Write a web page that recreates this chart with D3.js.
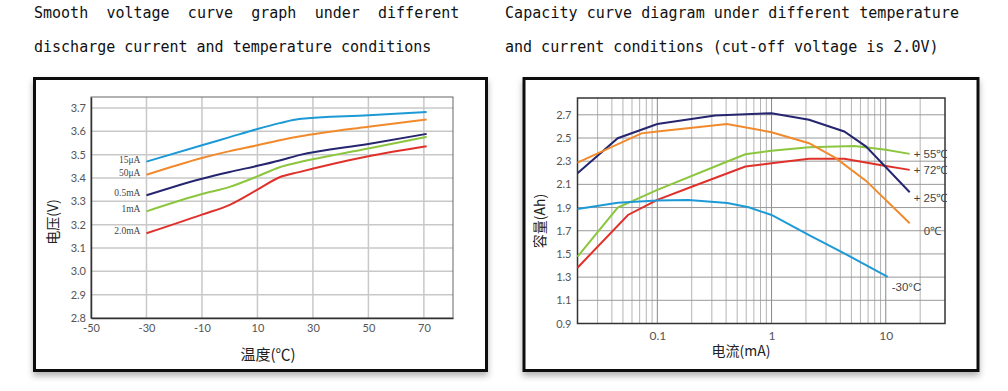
<!DOCTYPE html>
<html>
<head>
<meta charset="utf-8">
<script src="https://cdn.jsdelivr.net/npm/d3@7"></script>
<style>
  body { margin: 0; background: #fff; }
  .title { font-family: "DejaVu Sans Mono", monospace; font-size: 15px; fill: #111; }
  .tick text { font-family: Lato, "DejaVu Sans", sans-serif; fill: #555; }
  .cjk { font-family: "Noto Sans CJK SC", sans-serif; fill: #222; }
</style>
</head>
<body>
<svg id="chart" width="1008" height="391"></svg>
<script>
// ---- left chart: voltage vs temperature ----
const temps = [-30, -10, 0, 10, 18, 25, 50, 71];
const v15uA = [3.470, 3.540, 3.575, 3.610, 3.635, 3.653, 3.669, 3.683];
const v50uA = [3.414, 3.486, 3.515, 3.540, 3.562, 3.578, 3.620, 3.651];
const v05mA = [3.326, 3.397, 3.426, 3.452, 3.475, 3.498, 3.546, 3.589];
const v1mA  = [3.257, 3.331, 3.362, 3.407, 3.446, 3.467, 3.526, 3.576];
const v2mA  = [3.163, 3.243, 3.285, 3.350, 3.403, 3.425, 3.493, 3.536];
const voltLabels = ["15μA", "50μA", "0.5mA", "1mA", "2.0mA"];
const tempTicks = [-50, -30, -10, 10, 30, 50, 70];
const voltTicks = [2.8, 2.9, 3.0, 3.1, 3.2, 3.3, 3.4, 3.5, 3.6, 3.7];

// ---- right chart: capacity vs current (log) ----
const cur25  = [0.02, 0.045, 0.1, 0.32, 1, 2.13, 4.33, 6.73, 16.2];
const cap25  = [2.196, 2.498, 2.620, 2.694, 2.714, 2.657, 2.556, 2.426, 2.032];
const cur0   = [0.02, 0.0726, 0.1, 0.407, 1, 2.13, 3.66, 6.73, 16.2];
const cap0   = [2.288, 2.540, 2.556, 2.620, 2.550, 2.455, 2.326, 2.130, 1.764];
const cur55  = [0.02, 0.045, 0.1, 0.41, 0.59, 1, 2.13, 5.31, 10, 16.2];
const cap55  = [1.476, 1.900, 2.052, 2.297, 2.360, 2.389, 2.420, 2.432, 2.398, 2.363];
const cur72  = [0.02, 0.0553, 0.1, 0.2, 0.59, 1, 2.13, 4.33, 9.44, 16.2];
const cap72  = [1.381, 1.836, 1.966, 2.080, 2.254, 2.282, 2.320, 2.320, 2.262, 2.225];
const curM30 = [0.02, 0.045, 0.1, 0.187, 0.41, 0.63, 1, 2.13, 4.33, 10.4];
const capM30 = [1.888, 1.942, 1.960, 1.965, 1.940, 1.902, 1.836, 1.663, 1.505, 1.303];
const capTicks = [0.9, 1.1, 1.3, 1.5, 1.7, 1.9, 2.1, 2.3, 2.5, 2.7];
const curTicks = [0.1, 1, 10];

const svg = d3.select("#chart");

// shadow for the framed panels
const defs = svg.append("defs");
defs.append("filter").attr("id", "shadow")
    .attr("x", "-5%").attr("y", "-5%").attr("width", "110%").attr("height", "115%")
    .append("feDropShadow")
    .attr("dx", 0).attr("dy", 4).attr("stdDeviation", 3)
    .attr("flood-color", "#000").attr("flood-opacity", 0.3);

// titles
svg.append("text").attr("class", "title").attr("x", 34).attr("y", 18)
    .style("word-spacing", "9.2px")
    .text("Smooth voltage curve graph under different");
svg.append("text").attr("class", "title").attr("x", 34).attr("y", 52)
    .text("discharge current and temperature conditions");
svg.append("text").attr("class", "title").attr("x", 505).attr("y", 18)
    .attr("textLength", 454).attr("lengthAdjust", "spacing")
    .text("Capacity curve diagram under different temperature");
svg.append("text").attr("class", "title").attr("x", 505).attr("y", 52)
    .text("and current conditions (cut-off voltage is 2.0V)");

// frames
svg.append("rect").attr("x", 34.5).attr("y", 78.5).attr("width", 452).attr("height", 292)
    .attr("fill", "#fff").attr("stroke", "#111").attr("stroke-width", 3)
    .attr("filter", "url(#shadow)");
svg.append("rect").attr("x", 524).attr("y", 78.5).attr("width", 454).attr("height", 292)
    .attr("fill", "#fff").attr("stroke", "#111").attr("stroke-width", 3)
    .attr("filter", "url(#shadow)");

// ================= left chart =================
const x1 = d3.scaleLinear().domain([-50, 80.5]).range([91, 453]);
const y1 = d3.scaleLinear().domain([2.8, 3.747]).range([318, 97]);

const g1 = svg.append("g");

// grid
g1.selectAll(".vg").data(tempTicks.slice(1)).enter().append("line")
    .attr("x1", d => x1(d)).attr("x2", d => x1(d))
    .attr("y1", y1.range()[1]).attr("y2", y1.range()[0])
    .attr("stroke", "#c8c8c8").attr("stroke-width", 1.5);
g1.selectAll(".hg").data(voltTicks.slice(1)).enter().append("line")
    .attr("x1", x1.range()[0]).attr("x2", x1.range()[1])
    .attr("y1", d => y1(d)).attr("y2", d => y1(d))
    .attr("stroke", "#c8c8c8").attr("stroke-width", 1.5);

// plot border
g1.append("rect")
    .attr("x", x1.range()[0]).attr("y", y1.range()[1])
    .attr("width", x1.range()[1] - x1.range()[0])
    .attr("height", y1.range()[0] - y1.range()[1])
    .attr("fill", "none").attr("stroke", "#666").attr("stroke-width", 1);

// axes
g1.append("g")
    .attr("transform", `translate(0,318)`)
    .call(d3.axisBottom(x1).tickValues(tempTicks).tickSize(0).tickPadding(6).tickFormat(d => String(d)))
    .call(g => g.select(".domain").attr("stroke", "#333").attr("stroke-width", 1.5))
    .selectAll("text").style("font-size", "11px");
g1.append("g")
    .attr("transform", `translate(91,0)`)
    .call(d3.axisLeft(y1).tickValues(voltTicks).tickSize(0).tickPadding(5).tickFormat(d3.format(".1f")))
    .call(g => g.select(".domain").attr("stroke", "#333").attr("stroke-width", 1.5))
    .selectAll("text").style("font-size", "11px");

// lines
const voltSeries = [
    { values: v15uA, color: "#1d9ad6", label: voltLabels[0] },
    { values: v50uA, color: "#f08a2c", label: voltLabels[1] },
    { values: v05mA, color: "#252570", label: voltLabels[2] },
    { values: v1mA,  color: "#8cc63f", label: voltLabels[3] },
    { values: v2mA,  color: "#e0302a", label: voltLabels[4] }
];
const line1 = d3.line()
    .x((d, i) => x1(temps[i]))
    .y(d => y1(d))
    .curve(d3.curveMonotoneX);

g1.selectAll(".vline").data(voltSeries).enter().append("path")
    .attr("d", d => line1(d.values))
    .attr("fill", "none").attr("stroke", d => d.color).attr("stroke-width", 2);

g1.selectAll(".vlab").data(voltSeries).enter().append("text")
    .attr("x", x1(temps[0]) - 6)
    .attr("y", d => y1(d.values[0]) + 1)
    .attr("text-anchor", "end")
    .style("font-family", "'Liberation Serif', serif")
    .style("font-size", "9.5px").style("fill", "#444")
    .text(d => d.label);

// axis titles
svg.append("text").attr("class", "cjk")
    .attr("transform", "translate(58,222) rotate(-90)")
    .attr("text-anchor", "middle").style("font-size", "14px")
    .text("电压(V)");
svg.append("text").attr("class", "cjk")
    .attr("x", 268).attr("y", 360)
    .attr("text-anchor", "middle").style("font-size", "15px")
    .text("温度(℃)");

// ================= right chart =================
const x2 = d3.scaleLog().domain([0.02, 33]).range([577.5, 945]);
const y2 = d3.scaleLinear().domain([0.9, 2.845]).range([323.5, 98]);

const g2 = svg.append("g");

// log grid (minor ticks from 0.02 to 20)
const minor = x2.ticks().filter(d => d > 0.02 && d <= 20);
g2.selectAll(".vg").data(minor).enter().append("line")
    .attr("x1", d => x2(d)).attr("x2", d => x2(d))
    .attr("y1", y2.range()[1]).attr("y2", y2.range()[0])
    .attr("stroke", d => curTicks.includes(d) ? "#888" : "#b4b4b4")
    .attr("stroke-width", 1);
g2.selectAll(".hg").data(capTicks.slice(1)).enter().append("line")
    .attr("x1", x2.range()[0]).attr("x2", x2.range()[1])
    .attr("y1", d => y2(d)).attr("y2", d => y2(d))
    .attr("stroke", "#999").attr("stroke-width", 1);

g2.append("rect")
    .attr("x", x2.range()[0]).attr("y", y2.range()[1])
    .attr("width", x2.range()[1] - x2.range()[0])
    .attr("height", y2.range()[0] - y2.range()[1])
    .attr("fill", "none").attr("stroke", "#333").attr("stroke-width", 1.5);

g2.append("g")
    .attr("transform", `translate(0,323.5)`)
    .call(d3.axisBottom(x2).tickValues(curTicks).tickSize(0).tickPadding(8).tickFormat(d => String(d)))
    .call(g => g.select(".domain").remove())
    .selectAll("text").style("font-size", "12px");
g2.append("g")
    .attr("transform", `translate(577.5,0)`)
    .call(d3.axisLeft(y2).tickValues(capTicks).tickSize(0).tickPadding(6).tickFormat(d3.format(".1f")))
    .call(g => g.select(".domain").remove())
    .selectAll("text").style("font-size", "11px");

const capSeries = [
    { cur: cur55,  cap: cap55,  color: "#8cc63f", label: "+ 55℃" },
    { cur: cur72,  cap: cap72,  color: "#e0302a", label: "+ 72℃" },
    { cur: cur25,  cap: cap25,  color: "#252570", label: "+ 25℃" },
    { cur: cur0,   cap: cap0,   color: "#f08a2c", label: "0℃" },
    { cur: curM30, cap: capM30, color: "#1d9ad6", label: "-30°C" }
];
const line2 = d3.line()
    .x(d => x2(d[0]))
    .y(d => y2(d[1]));

g2.selectAll(".cline").data(capSeries).enter().append("path")
    .attr("d", d => line2(d.cur.map((c, i) => [c, d.cap[i]])))
    .attr("fill", "none").attr("stroke", d => d.color).attr("stroke-width", 2);

// end labels
const labPos = [
    { dx: 4, dy: 4 }, { dx: 4, dy: 4 }, { dx: 4, dy: 10 }, { dx: 14, dy: 12 }, { dx: 4, dy: 14 }
];
g2.selectAll(".clab").data(capSeries).enter().append("text")
    .attr("x", (d, i) => x2(d.cur[d.cur.length - 1]) + labPos[i].dx)
    .attr("y", (d, i) => y2(d.cap[d.cap.length - 1]) + labPos[i].dy)
    .style("font-family", "'Liberation Sans Narrow', 'Liberation Sans', sans-serif")
    .style("font-size", "11.5px").style("fill", "#444")
    .text(d => d.label);

svg.append("text").attr("class", "cjk")
    .attr("transform", "translate(545,221) rotate(-90)")
    .attr("text-anchor", "middle").style("font-size", "14px")
    .text("容量(Ah)");
svg.append("text").attr("class", "cjk")
    .attr("x", 741).attr("y", 356)
    .attr("text-anchor", "middle").style("font-size", "14px")
    .text("电流(mA)");
</script>
</body>
</html>
